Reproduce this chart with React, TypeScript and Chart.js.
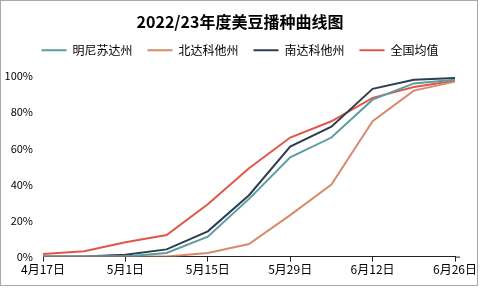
import React, { useEffect, useRef } from "react";
import { Chart, registerables } from "chart.js";

Chart.register(...registerables);

const categories = ["4月17日", "4月24日", "5月1日", "5月8日", "5月15日", "5月22日", "5月29日", "6月5日", "6月12日", "6月19日", "6月26日"];
const minnesota = [0, 0, 0, 2, 11, 32, 55, 66, 87, 96, 98];
const northDakota = [0, 0, 0, 0, 2, 7, 23, 40, 75, 92, 97];
const southDakota = [0, 0, 1, 4, 14, 34, 61, 72, 93, 98, 99];
const national = [1.5, 3, 8, 12, 29, 49, 66, 75, 88, 94, 97.5];
const seriesNames = ["明尼苏达州", "北达科他州", "南达科他州", "全国均值"];
const yTicks = [0, 20, 40, 60, 80, 100];

const FONT = "'Noto Sans CJK SC', 'Noto Sans', sans-serif";

const legendMargin = {
  id: "legendMargin",
  beforeInit(chart: any) {
    const fit = chart.legend.fit;
    chart.legend.fit = function () {
      fit.bind(chart.legend)();
      this.height += 10;
    };
  },
};

const axisExtend = {
  id: "axisExtend",
  afterDraw(chart: any) {
    const { ctx, chartArea } = chart;
    ctx.save();
    ctx.strokeStyle = "#222";
    ctx.lineWidth = 1;
    ctx.beginPath();
    ctx.moveTo(chartArea.right, chartArea.bottom + 0.5);
    ctx.lineTo(chartArea.right + 5, chartArea.bottom + 0.5);
    ctx.stroke();
    ctx.restore();
  },
};

export default function App() {
  const ref = useRef<HTMLCanvasElement | null>(null);
  useEffect(() => {
    document.body.style.margin = "0";
    if (!ref.current) return;
    const mk = (label: string, data: number[], color: string) => ({
      label,
      data,
      borderColor: color,
      backgroundColor: color,
      borderWidth: 2,
      pointRadius: 0,
      pointStyle: "line" as const,
      tension: 0,
      fill: false,
    });
    const chart = new Chart(ref.current, {
      type: "line",
      data: {
        labels: categories,
        datasets: [
          mk(seriesNames[0], minnesota, "#5B9DA0"),
          mk(seriesNames[1], northDakota, "#D88A6C"),
          mk(seriesNames[2], southDakota, "#2E3E4F"),
          mk(seriesNames[3], national, "#E0574A"),
        ],
      },
      plugins: [legendMargin, axisExtend],
      options: {
        responsive: false,
        animation: false,
        layout: { padding: { left: 0, right: 0, top: 0, bottom: 10 } },
        plugins: {
          title: {
            display: true,
            text: "2022/23年度美豆播种曲线图",
            color: "#000",
            font: { family: FONT, size: 16, weight: "bold" },
            padding: { top: 12, bottom: -2 },
          },
          legend: {
            display: true,
            labels: {
              usePointStyle: true,
              pointStyleWidth: 25,
              boxHeight: 12,
              color: "#000",
              font: { family: FONT, size: 12 },
              padding: 15,
            },
          },
          tooltip: { enabled: false },
        },
        scales: {
          x: {
            type: "category",
            offset: false,
            border: { display: true, color: "#222", width: 1 },
            grid: {
              display: true,
              drawOnChartArea: false,
              drawTicks: true,
              tickLength: 5,
              color: (c: any) => (c.index % 2 === 0 ? "#222" : "rgba(0,0,0,0)"),
            },
            afterFit: (axis: any) => {
              axis.paddingRight = 25;
            },
            ticks: {
              autoSkip: false,
              maxRotation: 0,
              padding: 1,
              color: "#000",
              font: { family: FONT, size: 12 },
              callback: (_v: any, i: number) => (i % 2 === 0 ? categories[i] : ""),
            },
          },
          y: {
            min: 0,
            max: 100,
            border: { display: false },
            grid: { display: false, drawTicks: false },
            afterBuildTicks: (axis: any) => {
              axis.ticks = yTicks.map((v) => ({ value: v }));
            },
            afterFit: (axis: any) => {
              axis.width = 43;
            },
            ticks: {
              padding: 10,
              color: "#000",
              font: { family: FONT, size: 11 },
              callback: (v: any) => v + "%",
            },
          },
        },
      },
    });
    return () => chart.destroy();
  }, []);
  return (
    <div style={{ position: "relative", width: 480, height: 288, background: "#fff" }}>
      <canvas ref={ref} width={480} height={288} style={{ display: "block" }} />
      <div
        style={{
          position: "absolute",
          left: 0,
          top: 0,
          width: 476,
          height: 284,
          border: "1px solid #a8a8a8",
          pointerEvents: "none",
        }}
      />
    </div>
  );
}
